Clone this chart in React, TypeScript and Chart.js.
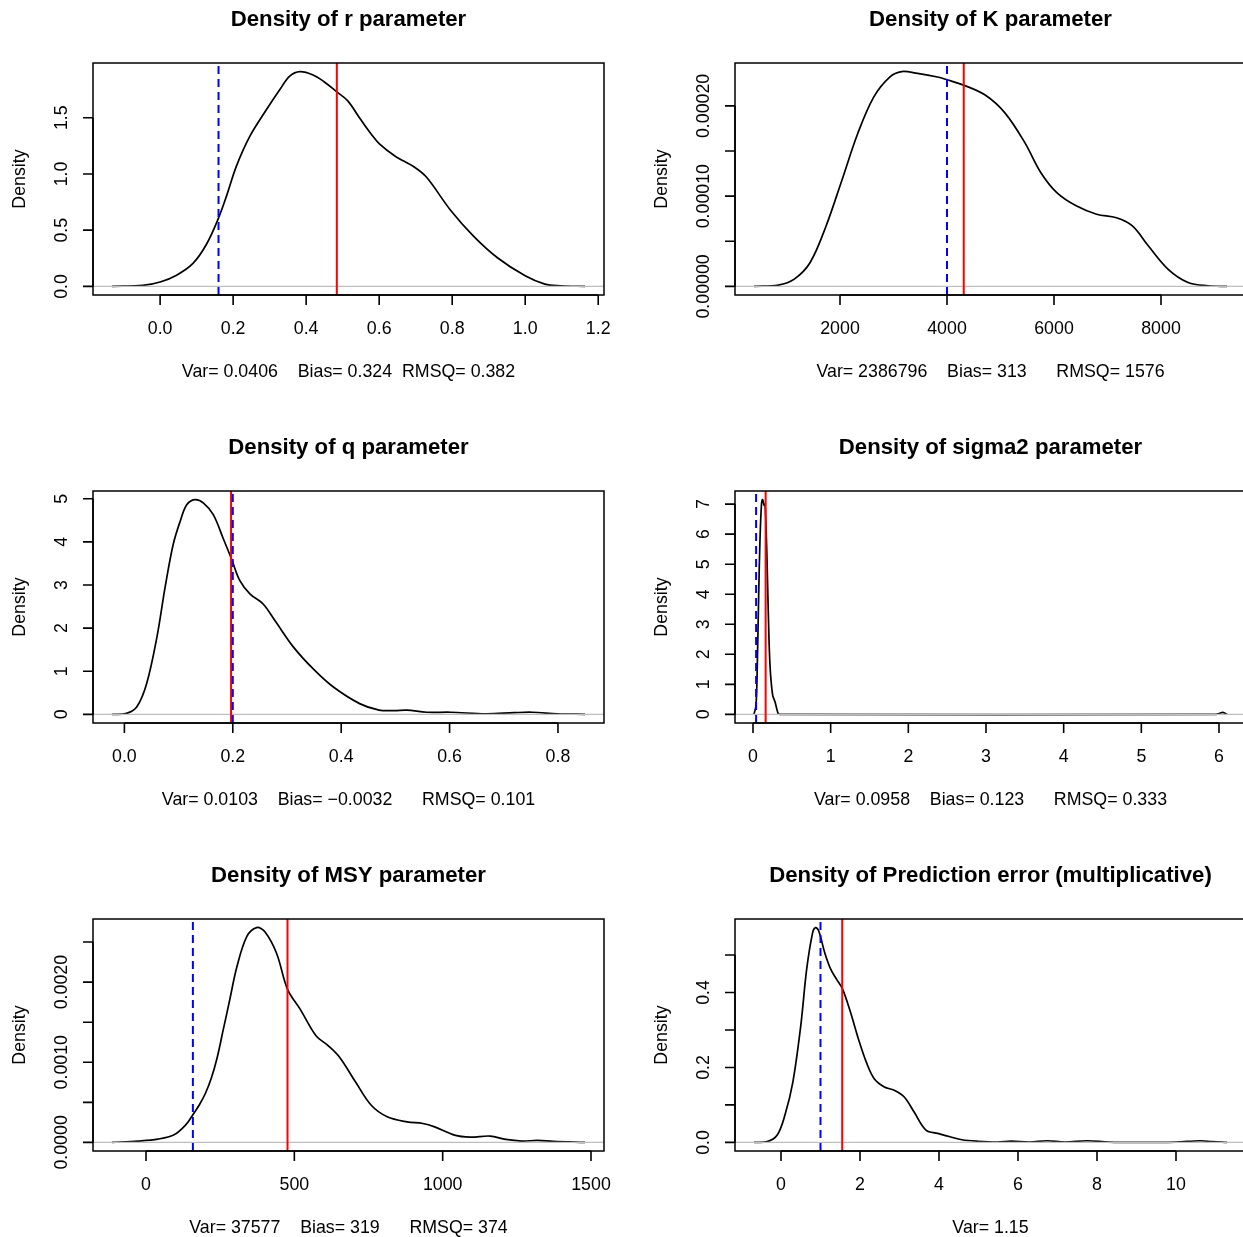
import React, { useEffect, useRef } from 'react';
import { Chart, registerables } from 'chart.js';

Chart.register(...registerables);

const FONT = '"Liberation Sans", Arial, Helvetica, sans-serif';
const PANEL_W = 642;
const PANEL_H = 428;

// ---- r parameter ----
const rDensityX = [-0.132, -0.047, 0.0, 0.045, 0.09, 0.127, 0.159, 0.182, 0.209, 0.246, 0.291, 0.328, 0.355, 0.383, 0.419, 0.449, 0.484, 0.514, 0.546, 0.578, 0.6, 0.643, 0.697, 0.73, 0.795, 0.859, 0.924, 1.0, 1.054, 1.097, 1.164];
const rDensityY = [0, 0.009, 0.039, 0.1, 0.205, 0.375, 0.6, 0.805, 1.07, 1.336, 1.57, 1.75, 1.87, 1.91, 1.88, 1.82, 1.73, 1.65, 1.5, 1.355, 1.27, 1.16, 1.06, 0.97, 0.68, 0.445, 0.255, 0.094, 0.02, 0.006, 0];
const rTrue = 0.16;
const rMean = 0.484;
const rXTicks = [0, 0.2, 0.4, 0.6, 0.8, 1.0, 1.2];
const rXTickLabels = ['0.0', '0.2', '0.4', '0.6', '0.8', '1.0', '1.2'];
const rYTicks = [0, 0.5, 1.0, 1.5];
const rYTickLabels = ['0.0', '0.5', '1.0', '1.5'];

// ---- K parameter ----
const kDensityX = [391, 848, 1145, 1442, 1740, 2037, 2335, 2632, 2929, 3152, 3450, 3822, 4000, 4312, 4714, 5086, 5457, 5755, 6052, 6424, 6796, 7167, 7465, 7762, 8134, 8506, 8877, 9235];
const kDensityY = [0, 0.0000015, 0.0000081, 0.0000265, 0.000067, 0.000118, 0.00017, 0.00021, 0.000232, 0.000238, 0.000236, 0.000232, 0.000229, 0.000223, 0.000212, 0.000192, 0.000159, 0.000126, 0.000104, 0.000089, 0.00008, 0.000076, 0.000067, 0.000045, 0.000019, 0.0000044, 0.0000007, 0];
const kTrue = 4000;
const kMean = 4313;
const kXTicks = [2000, 4000, 6000, 8000];
const kXTickLabels = ['2000', '4000', '6000', '8000'];
const kYTicks = [0, 0.00005, 0.0001, 0.00015, 0.0002];
const kYTickLabels = ['0.00000', '', '0.00010', '', '0.00020'];

// ---- q parameter ----
const qDensityX = [-0.023, 0.004, 0.023, 0.041, 0.06, 0.075, 0.09, 0.103, 0.115, 0.13, 0.146, 0.164, 0.182, 0.198, 0.213, 0.232, 0.256, 0.278, 0.312, 0.348, 0.385, 0.434, 0.47, 0.499, 0.521, 0.558, 0.602, 0.667, 0.719, 0.752, 0.799, 0.85];
const qDensityY = [0, 0.023, 0.177, 0.71, 1.79, 2.94, 3.94, 4.48, 4.86, 4.98, 4.9, 4.63, 4.09, 3.59, 3.1, 2.79, 2.56, 2.17, 1.56, 1.06, 0.64, 0.25, 0.1, 0.09, 0.1, 0.05, 0.05, 0.015, 0.04, 0.05, 0.015, 0];
const qTrue = 0.2;
const qMean = 0.1968;
const qXTicks = [0, 0.2, 0.4, 0.6, 0.8];
const qXTickLabels = ['0.0', '0.2', '0.4', '0.6', '0.8'];
const qYTicks = [0, 1, 2, 3, 4, 5];
const qYTickLabels = ['0', '1', '2', '3', '4', '5'];

// ---- sigma2 parameter ----
const sDensityX = [0.012, 0.039, 0.056, 0.073, 0.09, 0.11, 0.124, 0.142, 0.155, 0.176, 0.197, 0.219, 0.253, 0.283, 0.305, 0.326, 0.347, 5.95, 6.0, 6.05, 6.08, 6.104];
const sDensityY = [0, 0.31, 1.74, 3.94, 5.81, 7.02, 7.15, 6.97, 7.0, 5.59, 3.39, 1.63, 0.64, 0.42, 0.2, 0.02, 0, 0, 0.03, 0.07, 0.03, 0];
const sTrue = 0.04;
const sMean = 0.163;
const sXTicks = [0, 1, 2, 3, 4, 5, 6];
const sXTickLabels = ['0', '1', '2', '3', '4', '5', '6'];
const sYTicks = [0, 1, 2, 3, 4, 5, 6, 7];
const sYTickLabels = ['0', '1', '2', '3', '4', '5', '6', '7'];

// ---- MSY ----
const mDensityX = [-114.9, -27, 40, 93, 133, 157, 180, 200, 220, 240, 260, 280, 307, 340, 373, 400, 440, 477, 520, 573, 613, 653, 707, 760, 813, 880, 933, 973, 1040, 1093, 1160, 1213, 1267, 1320, 1373, 1480];
const mDensityY = [0, 0.000017, 0.000041, 0.000091, 0.000215, 0.00034, 0.00047, 0.00061, 0.0008, 0.00106, 0.0014, 0.00174, 0.0022, 0.00257, 0.00268, 0.00263, 0.00236, 0.00191, 0.00166, 0.00133, 0.00121, 0.00106, 0.00075, 0.00046, 0.00032, 0.000256, 0.000236, 0.000194, 0.000091, 0.000066, 0.000079, 0.000037, 0.000017, 0.000025, 0.000012, 0];
const mTrue = 158;
const mMean = 477;
const mXTicks = [0, 500, 1000, 1500];
const mXTickLabels = ['0', '500', '1000', '1500'];
const mYTicks = [0, 0.0005, 0.001, 0.0015, 0.002, 0.0025];
const mYTickLabels = ['0.0000', '', '0.0010', '', '0.0020', ''];

// ---- prediction error ----
const pDensityX = [-0.6855, -0.35, -0.1, 0.1, 0.3, 0.5, 0.65, 0.8, 0.875, 0.956, 1.107, 1.258, 1.408, 1.559, 1.76, 1.96, 2.16, 2.36, 2.616, 2.867, 3.12, 3.37, 3.67, 3.97, 4.28, 4.58, 4.98, 5.48, 5.83, 6.29, 6.74, 7.19, 7.75, 8.3, 9.0, 10.0, 10.61, 10.92, 11.293];
const pDensityY = [0, 0.002, 0.019, 0.073, 0.161, 0.311, 0.462, 0.559, 0.573, 0.564, 0.506, 0.462, 0.435, 0.409, 0.347, 0.276, 0.214, 0.17, 0.148, 0.139, 0.121, 0.081, 0.033, 0.024, 0.015, 0.007, 0.003, 0.001, 0.0035, 0.001, 0.0044, 0.001, 0.0044, 0.001, 0, 0.001, 0.0044, 0.002, 0];
const pTrue = 1.0;
const pMean = 1.55;
const pXTicks = [0, 2, 4, 6, 8, 10];
const pXTickLabels = ['0', '2', '4', '6', '8', '10'];
const pYTicks = [0, 0.1, 0.2, 0.3, 0.4, 0.5];
const pYTickLabels = ['0.0', '', '0.2', '', '0.4', ''];

type PanelSpec = {
  title: string;
  xlab: string;
  densX: number[];
  densY: number[];
  trueValue: number;
  meanValue: number;
  xTicks: number[];
  xTickLabels: string[];
  yTicks: number[];
  yTickLabels: string[];
};

const panels: PanelSpec[] = [
  { title: 'Density of r parameter', xlab: 'Var= 0.0406    Bias= 0.324  RMSQ= 0.382', densX: rDensityX, densY: rDensityY, trueValue: rTrue, meanValue: rMean, xTicks: rXTicks, xTickLabels: rXTickLabels, yTicks: rYTicks, yTickLabels: rYTickLabels },
  { title: 'Density of K parameter', xlab: 'Var= 2386796    Bias= 313      RMSQ= 1576', densX: kDensityX, densY: kDensityY, trueValue: kTrue, meanValue: kMean, xTicks: kXTicks, xTickLabels: kXTickLabels, yTicks: kYTicks, yTickLabels: kYTickLabels },
  { title: 'Density of q parameter', xlab: 'Var= 0.0103    Bias= \u22120.0032      RMSQ= 0.101', densX: qDensityX, densY: qDensityY, trueValue: qTrue, meanValue: qMean, xTicks: qXTicks, xTickLabels: qXTickLabels, yTicks: qYTicks, yTickLabels: qYTickLabels },
  { title: 'Density of sigma2 parameter', xlab: 'Var= 0.0958    Bias= 0.123      RMSQ= 0.333', densX: sDensityX, densY: sDensityY, trueValue: sTrue, meanValue: sMean, xTicks: sXTicks, xTickLabels: sXTickLabels, yTicks: sYTicks, yTickLabels: sYTickLabels },
  { title: 'Density of MSY parameter', xlab: 'Var= 37577    Bias= 319      RMSQ= 374', densX: mDensityX, densY: mDensityY, trueValue: mTrue, meanValue: mMean, xTicks: mXTicks, xTickLabels: mXTickLabels, yTicks: mYTicks, yTickLabels: mYTickLabels },
  { title: 'Density of Prediction error (multiplicative)', xlab: 'Var= 1.15', densX: pDensityX, densY: pDensityY, trueValue: pTrue, meanValue: pMean, xTicks: pXTicks, xTickLabels: pXTickLabels, yTicks: pYTicks, yTickLabels: pYTickLabels },
];

// R-style axis range: data range widened by 4% on each side
function paddedRange(values: number[]): [number, number] {
  const lo = Math.min(...values);
  const hi = Math.max(...values);
  const d = (hi - lo) * 0.04;
  return [lo - d, hi + d];
}

function makeFramePlugin(spec: PanelSpec) {
  return {
    id: 'rFrame',
    afterDraw(chart: any) {
      const { ctx, chartArea: a } = chart;
      const xs = chart.scales.x;
      const ys = chart.scales.y;
      const tick = 10;
      ctx.save();
      ctx.strokeStyle = '#000';
      ctx.fillStyle = '#000';
      ctx.lineWidth = 1.5;
      ctx.strokeRect(a.left, a.top, a.right - a.left, a.bottom - a.top);

      // bottom axis
      const xp = spec.xTicks.map((v) => xs.getPixelForValue(v));
      ctx.lineWidth = 1.6;
      ctx.beginPath();
      ctx.moveTo(xp[0], a.bottom);
      ctx.lineTo(xp[xp.length - 1], a.bottom);
      xp.forEach((p) => {
        ctx.moveTo(p, a.bottom);
        ctx.lineTo(p, a.bottom + tick);
      });
      ctx.stroke();
      ctx.font = `17.8px ${FONT}`;
      ctx.textAlign = 'center';
      ctx.textBaseline = 'middle';
      xp.forEach((p, i) => ctx.fillText(spec.xTickLabels[i], p, a.bottom + 34));

      // left axis
      const yp = spec.yTicks.map((v) => ys.getPixelForValue(v));
      ctx.beginPath();
      ctx.moveTo(a.left, yp[0]);
      ctx.lineTo(a.left, yp[yp.length - 1]);
      yp.forEach((p) => {
        ctx.moveTo(a.left, p);
        ctx.lineTo(a.left - tick, p);
      });
      ctx.stroke();
      yp.forEach((p, i) => {
        const label = spec.yTickLabels[i];
        if (!label) return;
        ctx.save();
        ctx.translate(a.left - 31, p);
        ctx.rotate(-Math.PI / 2);
        ctx.fillText(label, 0, 0);
        ctx.restore();
      });

      // axis titles
      const cx = (a.left + a.right) / 2;
      ctx.save();
      ctx.translate(20, (a.top + a.bottom) / 2);
      ctx.rotate(-Math.PI / 2);
      ctx.fillText('Density', 0, 0);
      ctx.restore();
      ctx.fillText(spec.xlab, cx, a.bottom + 77.5);

      ctx.font = `bold 22.2px ${FONT}`;
      ctx.fillText(spec.title, cx, a.top - 43.5);
      ctx.restore();
    },
  };
}

function Panel({ spec, left, top }: { spec: PanelSpec; left: number; top: number }) {
  const ref = useRef<HTMLCanvasElement | null>(null);

  useEffect(() => {
    if (!ref.current) return;
    const xlim = paddedRange(spec.densX);
    const ylim = paddedRange(spec.densY);
    const chart = new Chart(ref.current, {
      type: 'scatter',
      data: {
        datasets: [
          {
            label: 'density',
            data: spec.densX.map((x, i) => ({ x, y: spec.densY[i] })),
            showLine: true,
            borderColor: '#000000',
            borderWidth: 1.7,
            pointRadius: 0,
            tension: 0.35,
            order: 4,
          },
          {
            label: 'zero',
            data: [{ x: xlim[0], y: 0 }, { x: xlim[1], y: 0 }],
            showLine: true,
            borderColor: '#BEBEBE',
            borderWidth: 1.2,
            pointRadius: 0,
            order: 3,
          },
          {
            label: 'mean',
            data: [{ x: spec.meanValue, y: ylim[0] }, { x: spec.meanValue, y: ylim[1] }],
            showLine: true,
            borderColor: '#FF0000',
            borderWidth: 2,
            pointRadius: 0,
            order: 2,
          },
          {
            label: 'true',
            data: [{ x: spec.trueValue, y: ylim[0] }, { x: spec.trueValue, y: ylim[1] }],
            showLine: true,
            borderColor: '#0000FF',
            borderWidth: 2,
            borderDash: [8, 5],
            pointRadius: 0,
            order: 1,
          },
        ],
      } as any,
      options: {
        responsive: false,
        animation: false,
        devicePixelRatio: 1,
        events: [],
        layout: { padding: { left: 93, top: 63, right: 38, bottom: 133 } },
        scales: {
          x: { type: 'linear', display: false, min: xlim[0], max: xlim[1] },
          y: { type: 'linear', display: false, min: ylim[0], max: ylim[1] },
        },
        plugins: { legend: { display: false }, tooltip: { enabled: false } },
      },
      plugins: [makeFramePlugin(spec)],
    });
    return () => chart.destroy();
  }, [spec]);

  return (
    <canvas
      ref={ref}
      width={PANEL_W}
      height={PANEL_H}
      style={{ position: 'absolute', left, top, width: PANEL_W, height: PANEL_H }}
    />
  );
}

export default function App() {
  return (
    <div
      style={{
        position: 'fixed',
        left: 0,
        top: 0,
        width: 1243,
        height: 1237,
        overflow: 'hidden',
        background: '#ffffff',
      }}
    >
      {panels.map((p, i) => (
        <Panel key={i} spec={p} left={(i % 2) * PANEL_W} top={Math.floor(i / 2) * PANEL_H} />
      ))}
    </div>
  );
}
